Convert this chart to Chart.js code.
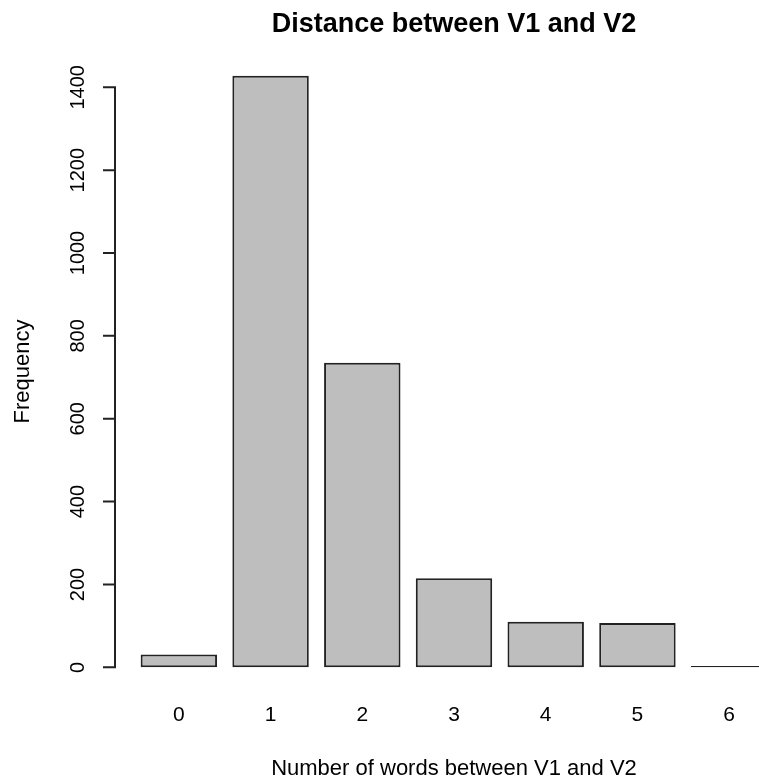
<!DOCTYPE html>
<html>
<head>
<meta charset="utf-8">
<script src="https://cdn.jsdelivr.net/npm/chart.js@4.4.1/dist/chart.umd.min.js"></script>
<style>
  html, body { margin: 0; padding: 0; background: #fff; overflow: hidden; }
  canvas { display: block; }
</style>
</head>
<body>
<canvas id="chart" width="800" height="779"></canvas>
<script>
// данные с картинки
const categories = ['0', '1', '2', '3', '4', '5', '6'];
const frequencies = [31, 1428, 735, 215, 110, 107, 3];
const yTickValues = [0, 200, 400, 600, 800, 1000, 1200, 1400];

const FONT = 'Liberation Sans, Arial, sans-serif';
const yMax = Math.max(...frequencies);

// ось Y как в R: линия только от первого до последнего тика
const rAxis = {
  id: 'rAxis',
  afterDraw(chart) {
    const ctx = chart.ctx;
    const y = chart.scales.y;
    const x0 = chart.chartArea.left - 18;
    const top = y.getPixelForValue(yTickValues[yTickValues.length - 1]);
    const bottom = y.getPixelForValue(yTickValues[0]);
    ctx.save();
    ctx.strokeStyle = '#222';
    ctx.lineWidth = 2;
    ctx.beginPath();
    ctx.moveTo(x0, top);
    ctx.lineTo(x0, bottom);
    yTickValues.forEach(v => {
      const p = y.getPixelForValue(v);
      ctx.moveTo(x0 + 1, p);
      ctx.lineTo(x0 - 12, p);
    });
    ctx.stroke();
    ctx.restore();
  }
};

new Chart(document.getElementById('chart'), {
  type: 'bar',
  data: {
    labels: categories,
    datasets: [{
      data: frequencies,
      backgroundColor: '#BEBEBE',
      borderColor: '#222',
      borderWidth: 2,
      borderSkipped: false,
      barPercentage: 1,
      categoryPercentage: 1 / 1.2
    }]
  },
  options: {
    responsive: false,
    animation: false,
    layout: { padding: { left: 0, right: 25, top: 0, bottom: 0 } },
    plugins: {
      legend: { display: false },
      tooltip: { enabled: false },
      title: {
        display: true,
        text: 'Distance between V1 and V2',
        fullSize: false,
        color: '#000',
        font: { family: FONT, size: 27, weight: 'bold', lineHeight: 1.2 },
        padding: { top: 8, bottom: 11.6 }
      }
    },
    scales: {
      x: {
        grid: { display: false, drawTicks: false },
        border: { display: false },
        ticks: { color: '#000', font: { family: FONT, size: 21 }, padding: 12 },
        title: {
          display: true,
          text: 'Number of words between V1 and V2',
          color: '#000',
          font: { family: FONT, size: 22, lineHeight: 1 },
          padding: { top: 0, bottom: -1 }
        },
        afterFit(scale) { scale.height = 88; }
      },
      y: {
        min: -0.04 * yMax,
        max: 1.04 * yMax,
        grid: { display: false, drawTicks: false },
        border: { display: false },
        afterBuildTicks(scale) {
          scale.ticks = yTickValues.map(v => ({ value: v }));
        },
        ticks: {
          color: '#000',
          font: { family: FONT, size: 20 },
          minRotation: 90,
          maxRotation: 90,
          crossAlign: 'center',
          padding: 32,
          callback: v => String(v)
        },
        title: {
          display: true,
          text: 'Frequency',
          color: '#000',
          font: { family: FONT, size: 22, lineHeight: 1.2 },
          padding: { top: 10, bottom: 0 }
        },
        afterFit(scale) { scale.width = 133; }
      }
    }
  },
  plugins: [rAxis]
});
</script>
</body>
</html>
